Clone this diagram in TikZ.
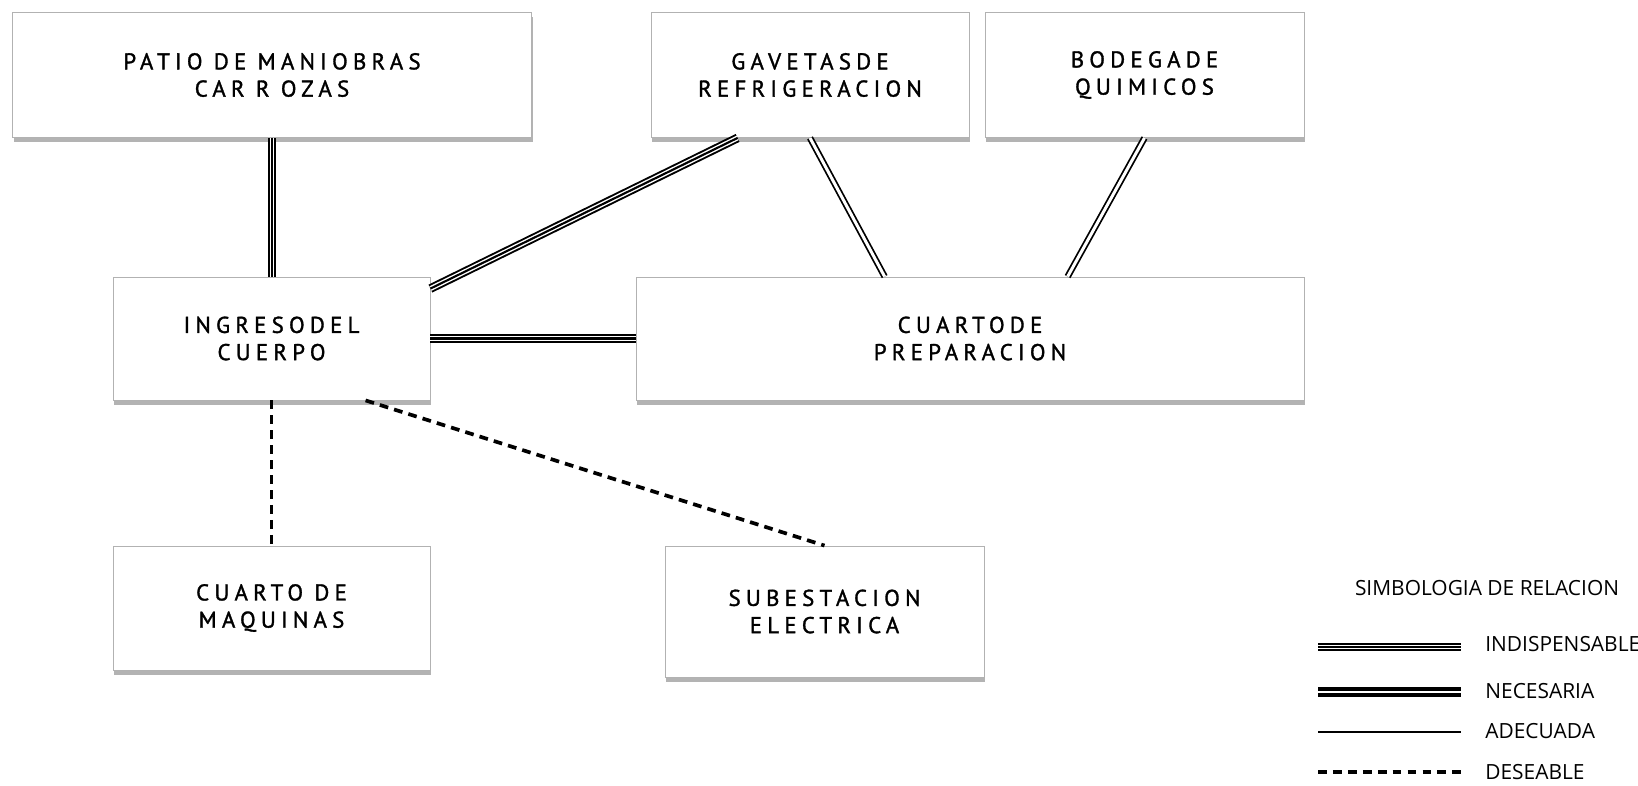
\documentclass[tikz,border=0pt]{standalone}
\usepackage{fontspec}
\usepackage{tikz}
\usetikzlibrary{calc,shadows}
\newfontfamily\roomfont[LetterSpace=23, FakeBold=1.4]{PT Sans}
\newfontfamily\legfont{Open Sans}

\begin{document}
\begin{tikzpicture}[x=0.02cm, y=-0.02cm,
        roombox/.style={draw=gray!60, line width=0.5pt, fill=white, align=center,
            font={\roomfont\fontsize{13}{15.5}\selectfont},
            drop shadow={shadow xshift=0.8pt, shadow yshift=-2.8pt, opacity=0.6, fill=gray}},
        indisp/.style={line width=5pt, draw=black,
            postaction={draw=white, line width=2.8pt},
            postaction={draw=black, line width=1.2pt}},
        necesaria/.style={double, line width=1.8pt, double distance=1.6pt},
        necthin/.style={double, line width=1pt, double distance=1.7pt},
        adecuada/.style={line width=1.3pt},
        deseable/.style={line width=2.1pt, dash pattern=on 5pt off 3.5pt},
        leglabel/.style={anchor=west, inner sep=0pt, font={\legfont\fontsize{11.9}{13}\selectfont}}]
        \useasboundingbox (0,0) rectangle (1638,785);

        % Rooms
        \node[roombox, minimum width=10.38cm, minimum height=2.5cm] (patio) at (272,75) {PATIO DE MANIOBRAS\\CAR R OZAS};
        \node[roombox, minimum width=6.36cm, minimum height=2.5cm] (gavetas) at (810,75) {GAVETASDE\\REFRIGERACION};
        \node[roombox, minimum width=6.38cm, minimum height=2.5cm] (bodega) at (1144.5,75) {BODEGADE\\QUIMICOS};
        \node[roombox, minimum width=6.34cm, minimum height=2.46cm] (ingreso) at (271.5,338.5) {INGRESODEL\\CUERPO};
        \node[roombox, minimum width=13.36cm, minimum height=2.46cm] (prep) at (970,338.5) {CUARTODE\\PREPARACION};
        \node[roombox, minimum width=6.34cm, minimum height=2.48cm] (maquinas) at (271.5,608) {CUARTO DE\\MAQUINAS};
        \node[roombox, minimum width=6.38cm, minimum height=2.62cm] (subest) at (824.5,611.5) {SUBESTACION\\ELECTRICA};

        % Relations
        \draw[indisp] (patio.south) -- (patio.south |- ingreso.north);
        \draw[indisp] ($(gavetas.south west)+(87,0)$) -- ($(ingreso.north east)+(0,12)$);
        \draw[indisp] (ingreso.east) -- (prep.west);
        \draw[necthin] (gavetas.south) -- ($(prep.north west)+(249,0)$);
        \draw[necthin] (bodega.south) -- ($(prep.north west)+(432,0)$);
        \draw[deseable] (ingreso.south) -- (maquinas.north);
        \draw[deseable] ($(ingreso.south west)+(253,0)$) -- (subest.north);

        % Legend
        \node[font={\legfont\fontsize{11.9}{13}\selectfont}] (legtitle) at (1487,588) {SIMBOLOGIA DE RELACION};
        \coordinate (ia) at (1318,647); \coordinate (ib) at (1461,647);
        \coordinate (na) at (1318,692); \coordinate (nb) at (1461,692);
        \coordinate (aa) at (1318,732); \coordinate (ab) at (1461,732);
        \coordinate (da) at (1318,772); \coordinate (db) at (1461,772);
        \draw[indisp] (ia) -- (ib);
        \draw[necesaria] (na) -- (nb);
        \draw[adecuada] (aa) -- (ab);
        \draw[deseable] (da) -- (db);
        \node[leglabel] (lind) at (1485,644) {INDISPENSABLE};
        \node[leglabel] (lnec) at (1485,691) {NECESARIA};
        \node[leglabel] (lade) at (1485,731) {ADECUADA};
        \node[leglabel] (ldes) at (1485,772) {DESEABLE};
\end{tikzpicture}
\end{document}
